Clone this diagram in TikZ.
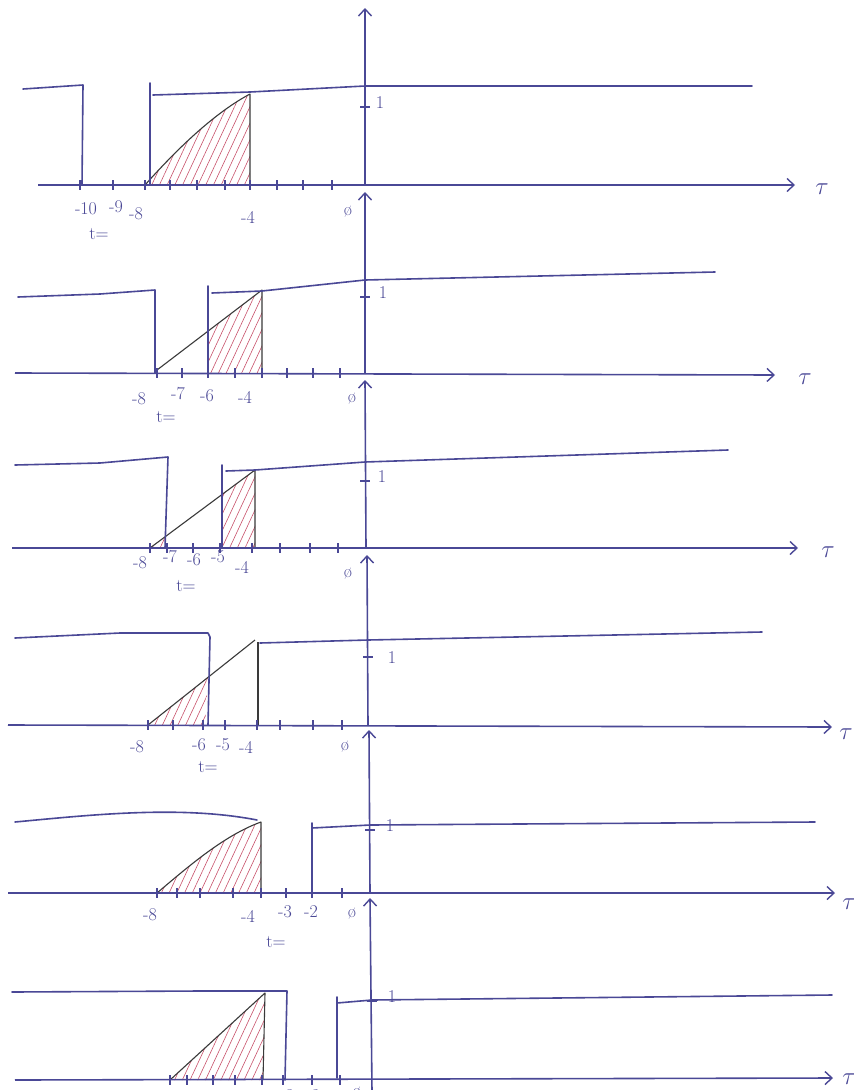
\documentclass[tikz,border=0pt]{standalone}
\usetikzlibrary{arrows.meta,patterns.meta}
\definecolor{pen}{HTML}{4A4896}
\definecolor{dark}{HTML}{3A3A3A}
\definecolor{hatch}{HTML}{C8506A}
\begin{document}
\begin{tikzpicture}[x=1pt,y=-1pt,
  pen/.style={draw=pen,line width=1.6pt,line join=round,line cap=round},
  tri/.style={draw=dark,line width=1.1pt,line join=round},
  hatched/.style={pattern={Lines[angle=65,distance=7pt,line width=0.6pt]},pattern color=hatch},
  axis/.style={draw=pen,line width=1.6pt,-{Straight Barb[length=7pt,width=13pt,line width=1.4pt]}},
  tk/.style={draw=pen,line width=1.2pt},
  lab/.style={text=pen,font=\fontsize{18}{20}\selectfont,inner sep=0pt},
  tau/.style={text=pen,font=\fontsize{24}{26}\selectfont,inner sep=0pt}]
\clip (0,0) rectangle (854,1090);
\fill[white] (0,0) rectangle (854,1090);

% ---------- panel 1 ----------
\fill[hatched] (145,185) .. controls (185,140) and (220,110) .. (250,94) -- (250,185) -- cycle;
\draw[tri] (145,185) .. controls (185,140) and (220,110) .. (250,94) -- (250,185);
\draw[pen] (23,89) -- (83,85) -- (82,185);
\draw[pen] (150,185) -- (150,83);
\draw[pen] (153,95) -- (250,92) -- (365,86) -- (752,86);
\draw[axis] (38,185) -- (795,185);
\draw[axis] (365,185) -- (365,8);
\foreach \x in {80,113,145,170,197,225,250,277,303,332} \draw[tk] (\x,180) -- (\x,190);
\draw[tk] (360,107) -- (370,107);
\node[lab] (p1one) at (380,103) {1};
\node[tau] (p1tau) at (822,189) {$\tau$};
\node[lab] (p1m10) at (86,209) {-10};
\node[lab] (p1m9) at (116,207) {-9};
\node[lab] (p1m8) at (136,214) {-8};
\node[lab] (p1t) at (99,234) {t=};
\node[lab] (p1m4) at (248,217) {-4};
\node[lab] (p1z) at (348,212) {\o};

% ---------- panel 2 ----------
\fill[hatched] (208,373) -- (208,331) -- (262,290) -- (262,373) -- cycle;
\draw[tri] (157,370) -- (262,290) -- (262,373);
\draw[pen] (18,297) -- (100,294) -- (155,290) -- (155,373);
\draw[pen] (208,373) -- (208,286);
\draw[pen] (212,293) -- (262,291) -- (365,280) -- (715,272);
\draw[axis] (15,373) -- (775,375);
\draw[axis] (365,373) -- (365,192);
\foreach \x in {157,182,208,235,262,287,313,340} \draw[tk] (\x,368) -- (\x,378);
\draw[tk] (360,297) -- (370,297);
\node[lab] (p2one) at (383,293) {1};
\node[tau] (p2tau) at (805,379) {$\tau$};
\node[lab] (p2m8) at (139,399) {-8};
\node[lab] (p2m7) at (178,394) {-7};
\node[lab] (p2m6) at (207,396) {-6};
\node[lab] (p2m4) at (245,397) {-4};
\node[lab] (p2t) at (166,417) {t=};
\node[lab] (p2z) at (352,399) {\o};

% ---------- panel 3 ----------
\fill[hatched] (150,548) -- (165,537) -- (165,548) -- cycle;
\fill[hatched] (222,548) -- (222,494) -- (255,470) -- (255,548) -- cycle;
\draw[tri] (150,548) -- (255,470) -- (255,548);
\draw[pen] (15,465) -- (100,463) -- (168,457) -- (165,548);
\draw[pen] (222,548) -- (222,465);
\draw[pen] (226,471) -- (255,470) -- (365,462) -- (728,450);
\draw[axis] (12,548) -- (798,548);
\draw[axis] (366,548) -- (365,380);
\foreach \x in {150,167,193,220,252,280,310,338} \draw[tk] (\x,543) -- (\x,553);
\draw[tk] (360,481) -- (370,481);
\node[lab] (p3one) at (382,477) {1};
\node[tau] (p3tau) at (828,552) {$\tau$};
\node[lab] (p3m8) at (140,563) {-8};
\node[lab] (p3m7) at (170,557) {-7};
\node[lab] (p3m6) at (194,560) {-6};
\node[lab] (p3m5) at (218,557) {-5};
\node[lab] (p3m4) at (242,567) {-4};
\node[lab] (p3t) at (186,586) {t=};
\node[lab] (p3z) at (348,574) {\o};

% ---------- panel 4 ----------
\fill[hatched] (148,725) -- (208,677) -- (205,725) -- cycle;
\draw[tri] (148,725) -- (255,640);
\draw[pen] (15,638) -- (120,633) -- (208,633) -- (210,637) -- (208,725);
\draw[tri] (258,725) -- (258,642);
\draw[pen] (260,643) -- (368,640) -- (762,632);
\draw[axis] (8,725) -- (832,727);
\draw[axis] (368,725) -- (367,555);
\foreach \x in {148,173,203,225,257,280,313,342} \draw[tk] (\x,720) -- (\x,730);
\draw[tk] (363,657) -- (373,657);
\node[lab] (p4one) at (392,658) {1};
\node[tau] (p4tau) at (846,734) {$\tau$};
\node[lab] (p4m8) at (137,747) {-8};
\node[lab] (p4m6) at (199,745) {-6};
\node[lab] (p4m5) at (223,745) {-5};
\node[lab] (p4m4) at (246,747) {-4};
\node[lab] (p4t) at (208,767) {t=};
\node[lab] (p4z) at (345,747) {\o};

% ---------- panel 5 ----------
\fill[hatched] (157,893) .. controls (190,865) and (225,835) .. (261,822) -- (261,893) -- cycle;
\draw[tri] (157,893) .. controls (190,865) and (225,835) .. (261,822) -- (261,893);
\draw[pen] (15,822) .. controls (90,815) and (180,805) .. (257,820);
\draw[pen] (312,893) -- (312,823);
\draw[pen] (312,828) -- (370,825) -- (815,822);
\draw[axis] (8,893) -- (835,893);
\draw[axis] (370,893) -- (369,730);
\foreach \x in {157,177,200,233,261,286,312,342} \draw[tk] (\x,888) -- (\x,898);
\draw[tk] (365,830) -- (375,830);
\node[lab] (p5one) at (390,826) {1};
\node[tau] (p5tau) at (849,904) {$\tau$};
\node[lab] (p5m8) at (150,915) {-8};
\node[lab] (p5m4) at (248,916) {-4};
\node[lab] (p5m3) at (285,912) {-3};
\node[lab] (p5m2) at (311,912) {-2};
\node[lab] (p5t) at (276,942) {t=};
\node[lab] (p5z) at (352,914) {\o};

% ---------- panel 6 ----------
\fill[hatched] (170,1080) -- (265,993) -- (263,1080) -- cycle;
\draw[tri] (170,1080) -- (265,993) -- (263,1080);
\draw[pen] (12,992) -- (200,991) -- (287,991) -- (285,1080);
\draw[pen] (337,1078) -- (337,997);
\draw[pen] (337,1003) -- (372,1000) -- (832,995);
\draw[axis] (15,1080) -- (833,1078);
\draw[axis] (372,1092) -- (370,898);
\foreach \x in {170,187,213,235,262,283,312,340} \draw[tk] (\x,1075) -- (\x,1085);
\draw[tk] (367,1001) -- (377,1001);
\node[lab] (p6one) at (392,997) {1};
\node[tau] (p6tau) at (849,1079) {$\tau$};
\node[lab] (p6m8) at (172,1098) {-8};
\node[lab] (p6m4) at (258,1097) {-4};
\node[lab] (p6m3) at (287,1096) {-3};
\node[lab] (p6m2) at (313,1096) {-2};
\node[lab] (p6z) at (357,1093) {\o};
\end{tikzpicture}
\end{document}
